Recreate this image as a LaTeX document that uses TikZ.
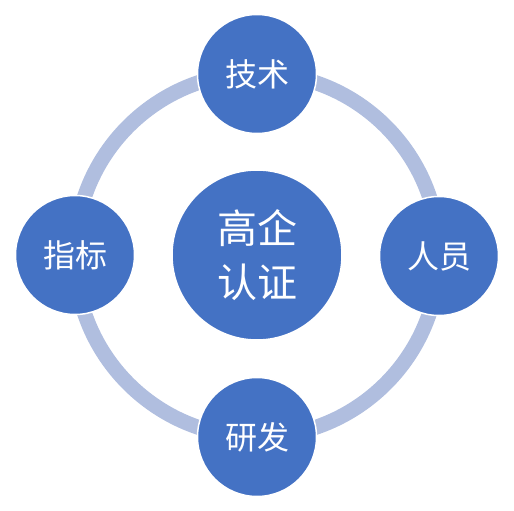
\documentclass[tikz,border=0pt]{standalone}
\usepackage{fontspec}
\newfontfamily\cjk{Noto Sans CJK SC}
\definecolor{nodeblue}{HTML}{4472C4}
\definecolor{ringblue}{HTML}{B0BEDF}
\begin{document}
\begin{tikzpicture}[x=1pt,y=-1pt,
  hub/.style={circle,fill=nodeblue,draw=white,line width=1.5pt,minimum size=170pt,inner sep=0pt,text=white,font=\cjk\fontsize{40}{54}\selectfont,align=center},
  sat/.style={circle,fill=nodeblue,draw=white,line width=1.5pt,minimum size=119pt,inner sep=0pt,text=white,font=\cjk\fontsize{32}{38}\selectfont},
  ring/.style={draw=ringblue,line width=15pt}]
\useasboundingbox (0,0) rectangle (514,511);
\coordinate (c) at (257,255);
\draw[ring] (c) circle[radius=182];
\node[hub] (center) at (c) {高企\\认证};
\node[sat] (top) at (257,74) {技术};
\node[sat] (right) at (439,256) {人员};
\node[sat] (bottom) at (257,437) {研发};
\node[sat] (left) at (75,255) {指标};
\end{tikzpicture}
\end{document}
